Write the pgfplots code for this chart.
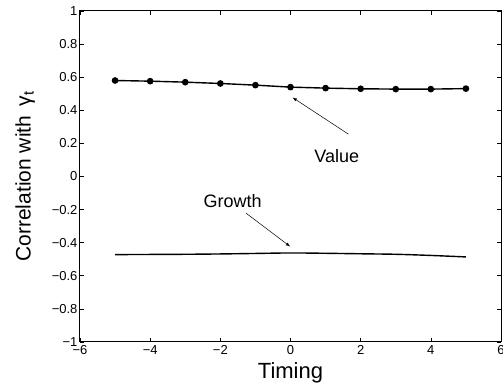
\documentclass[border=0pt]{standalone}
\usepackage{pgfplots}
\pgfplotsset{compat=1.18}
\usepackage{fontspec}
\setmainfont{Liberation Sans}
\begin{document}
\begin{tikzpicture}
\begin{axis}[
  name=ax,
  scale only axis,
  width=421pt, height=331pt,
  xmin=-6, xmax=6, ymin=-1, ymax=1,
  xtick={-6,-4,-2,0,2,4,6},
  xticklabels={−6,−4,−2,0,2,4,6},
  ytick={-1,-0.8,-0.6,-0.4,-0.2,0,0.2,0.4,0.6,0.8,1},
  yticklabels={−1,−0.8,−0.6,−0.4,−0.2,0,0.2,0.4,0.6,0.8,1},
  tick align=inside,
  major tick length=4pt,
  tick style={line width=0.6pt, black},
  axis line style={line width=1pt},
  ticklabel style={font=\fontsize{13}{13}\selectfont},
  xticklabel style={yshift=0pt},
  yticklabel style={xshift=1pt},
  xlabel={Timing},
  ylabel={Correlation with\, γ\textsubscript{t}},
  xlabel style={font=\fontsize{22}{22}\selectfont, yshift=-1pt},
  ylabel style={font=\fontsize{21}{21}\selectfont, yshift=10pt},
  clip=false,
]
\addplot[black, line width=1.4pt, mark=*, mark size=2.6pt] coordinates {
(-5,0.580) (-4,0.576) (-3,0.570) (-2,0.562) (-1,0.552) (0,0.540)
(1,0.534) (2,0.530) (3,0.528) (4,0.528) (5,0.531)
};
\addplot[black, line width=1.4pt, smooth] coordinates {
(-5,-0.472) (-4,-0.471) (-3,-0.470) (-2,-0.468) (-1,-0.465) (0,-0.462)
(1,-0.464) (2,-0.467) (3,-0.470) (4,-0.477) (5,-0.486)
};
\draw[-latex, line width=0.5pt] (axis cs:1.65,0.256) -- (axis cs:0.06,0.477);
\node[font=\fontsize{18}{18}\selectfont] at (axis cs:1.32,0.125) {Value};
\draw[-latex, line width=0.5pt] (axis cs:-1.27,-0.221) -- (axis cs:-0.01,-0.423);
\node[font=\fontsize{18}{18}\selectfont] at (axis cs:-1.65,-0.147) {Growth};
\end{axis}
\pgfresetboundingbox
\path ([xshift=-80pt,yshift=-48pt]ax.south west) rectangle ([xshift=2pt,yshift=11pt]ax.north east);
\end{tikzpicture}
\end{document}
